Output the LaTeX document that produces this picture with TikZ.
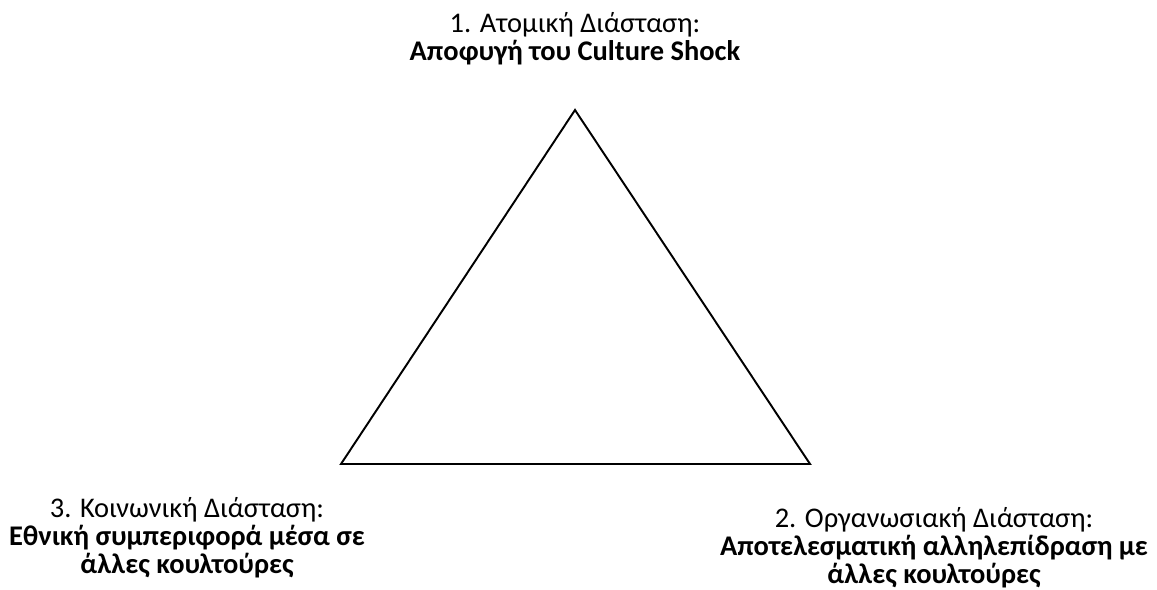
\documentclass[tikz,border=0pt]{standalone}
\usepackage{fontspec}
\setmainfont{Carlito}

\begin{document}
\begin{tikzpicture}[x=0.02cm,y=-0.02cm,
  dimlabel/.style={align=center,inner sep=0pt,font=\fontsize{16.2}{15.9}\selectfont}]
\useasboundingbox (0,0) rectangle (1157,590);
% corners of the triangle
\coordinate (apex) at (575,110);
\coordinate (left) at (341,464);
\coordinate (right) at (810,464);
\draw[line width=1.1pt,line join=miter] (apex) -- (right) -- (left) -- cycle;
% the three dimensions
\node[dimlabel] (atomic) at (575,39) {1. Ατομική Διάσταση:\\\textbf{Αποφυγή του Culture Shock}};
\node[dimlabel] (social) at (187,538) {3. Κοινωνική Διάσταση:\\\textbf{Εθνική συμπεριφορά μέσα σε}\\\textbf{άλλες κουλτούρες}};
\node[dimlabel] (organ) at (934,548) {2. Οργανωσιακή Διάσταση:\\\textbf{Αποτελεσματική αλληλεπίδραση με}\\\textbf{άλλες κουλτούρες}};
\end{tikzpicture}
\end{document}
